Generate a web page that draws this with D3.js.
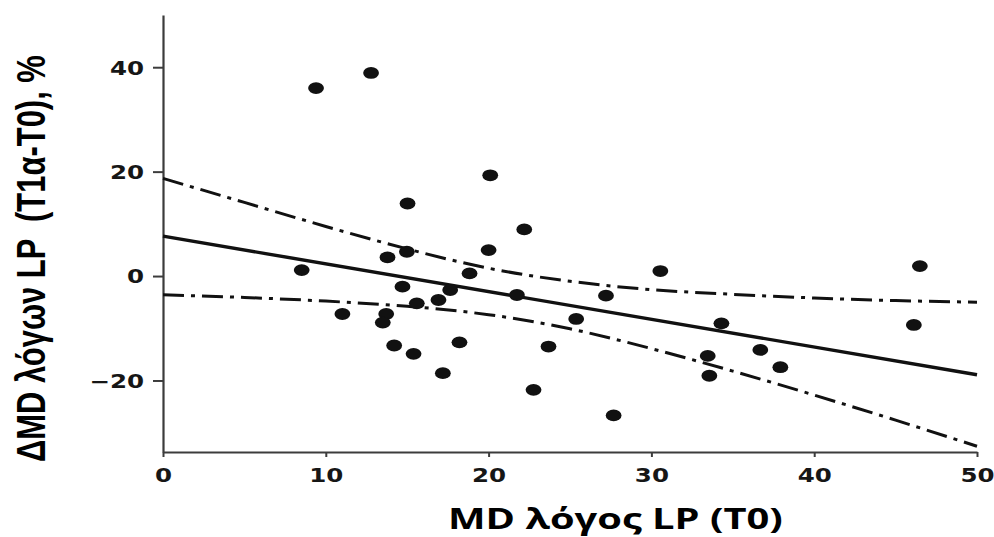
<!DOCTYPE html>
<html><head><meta charset="utf-8">
<script src="https://cdn.jsdelivr.net/npm/d3@7"></script>
<style>body{margin:0;background:#fff;} svg{display:block}</style>
</head><body><svg id="c" width="994" height="537"></svg>
<script>
// ---- data ----
const mdT0 = [9.40, 12.78, 20.10, 15.02, 22.19, 20.00, 14.98, 13.79, 46.49, 30.55, 8.52, 18.83,
  14.71, 17.64, 16.92, 15.59, 11.02, 13.71, 13.50, 14.20, 15.39, 18.21, 17.19, 21.74, 27.21,
  25.38, 23.68, 22.76, 27.68, 46.12, 34.30, 36.69, 37.92, 33.46, 33.56];
const deltaMD = [36.0, 38.9, 19.3, 13.9, 8.93, 4.97, 4.65, 3.57, 1.91, 0.96, 1.15, 0.51,
  -2.04, -2.68, -4.59, -5.23, -7.27, -7.27, -8.92, -13.3, -14.9, -12.7, -18.6, -3.63, -3.76,
  -8.22, -13.5, -21.8, -26.7, -9.37, -9.05, -14.15, -17.46, -15.3, -19.1];
const fitX = [0, 50];
const fitY = [7.65, -18.9];
const bandX = [0, 5, 10, 15, 20, 25, 30, 35, 40, 45, 50];
const bandUpper = [18.7, 14.1, 9.5, 5.2, 1.5, -1.0, -2.6, -3.5, -4.2, -4.7, -5.0];
const bandLower = [-3.6, -4.1, -4.8, -5.8, -7.4, -10.1, -13.9, -18.2, -22.8, -27.6, -32.6];
const xTicks = [0, 10, 20, 30, 40, 50];
const yTicks = [-20, 0, 20, 40];
const xTitle = "MD λόγος LP (T0)";
const yTitle = "ΔMD λόγων LP  (T1α-T0), %";

// ---- drawing ----
const svg = d3.select("#c");
const x = d3.scaleLinear().domain([0, 50]).range([163, 977]);
const y = d3.scaleLinear().domain([-33.7, 50]).range([452, 15]);
const ink = "#111";
const axisColor = "#3c3c3c";
const tickFont = "'DejaVu Sans', Verdana, sans-serif";

// axes
const gy = svg.append("g").attr("transform", `translate(${x(0)},0)`)
  .call(d3.axisLeft(y).tickValues(yTicks).tickSize(10).tickSizeOuter(0));
const gx = svg.append("g").attr("transform", `translate(0,${y(-33.7)})`)
  .call(d3.axisBottom(x).tickValues(xTicks).tickSize(5).tickSizeOuter(0));
[gy, gx].forEach(g => {
  g.select(".domain").attr("stroke", axisColor).attr("stroke-width", 2.2);
  g.selectAll(".tick line").attr("stroke", axisColor).attr("stroke-width", 2);
  g.selectAll("text").attr("fill", "#161616").attr("font-family", tickFont)
    .attr("font-weight", "bold").attr("font-size", 19);
});
gy.selectAll("text").attr("x", 0).attr("dy", "0.36em")
  .attr("transform", "translate(-19,0) scale(1.29,1)");
gx.selectAll("text").attr("y", 0).attr("dy", 0)
  .attr("transform", "translate(0,30) scale(1.29,1)");

// confidence bands
const bandLine = d3.line().x(d => x(d[0])).y(d => y(d[1])).curve(d3.curveNatural);
[bandUpper, bandLower].forEach(arr => {
  svg.append("path").datum(bandX.map((v, i) => [v, arr[i]]))
    .attr("d", bandLine).attr("fill", "none").attr("stroke", ink)
    .attr("stroke-width", 3).attr("stroke-dasharray", "21,7,4,7");
});

// regression line
svg.append("path").datum(fitX.map((v, i) => [v, fitY[i]]))
  .attr("d", d3.line().x(d => x(d[0])).y(d => y(d[1])))
  .attr("fill", "none").attr("stroke", ink).attr("stroke-width", 3.4);

// points
svg.append("g").selectAll("ellipse").data(mdT0.map((v, i) => [v, deltaMD[i]]))
  .join("ellipse").attr("cx", d => x(d[0])).attr("cy", d => y(d[1]))
  .attr("rx", 7.9).attr("ry", 5.9).attr("fill", ink);

// x title
const xt = svg.append("text").text(xTitle)
  .attr("font-family", "'Open Sans', 'Noto Sans', sans-serif").attr("font-weight", "bold")
  .attr("font-size", 29).attr("fill", "#000");
const xw = xt.node().getBBox().width;
xt.attr("transform", `translate(448,529) scale(${335 / xw},1)`);

// y title
const yt = svg.append("text").text(yTitle).style("white-space", "pre")
  .attr("font-family", "'Liberation Sans', Arial, sans-serif").attr("font-weight", "bold")
  .attr("font-size", 30).attr("fill", "#000");
const yl = yt.node().getComputedTextLength();
yt.attr("font-size", 30 * 407 / yl)
  .attr("transform", "translate(45,462) rotate(-90) scale(1,1.33)");
</script></body></html>
